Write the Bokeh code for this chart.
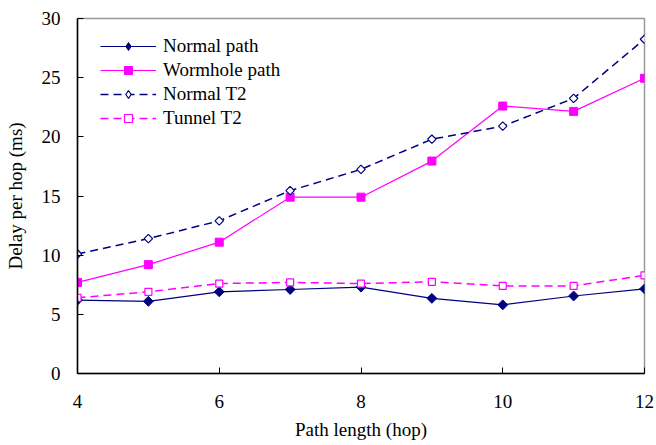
import math
from bokeh.plotting import figure
from bokeh.embed import file_html
from bokeh.resources import INLINE
from bokeh.models import Range1d, FixedTicker, Legend, LegendItem

hops = [4, 5, 6, 7, 8, 9, 10, 11, 12]
normal_path = [6.2, 6.1, 6.9, 7.1, 7.3, 6.35, 5.8, 6.55, 7.15]
wormhole_path = [7.7, 9.2, 11.1, 14.9, 14.9, 17.95, 22.6, 22.15, 24.95]
normal_t2 = [10.1, 11.4, 12.9, 15.45, 17.25, 19.8, 20.9, 23.25, 28.25]
tunnel_t2 = [6.4, 6.9, 7.6, 7.7, 7.6, 7.75, 7.4, 7.4, 8.3]
x_ticks = [4, 6, 8, 10, 12]
y_ticks = [0, 5, 10, 15, 20, 25, 30]

NAVY = "#000080"
MAG = "#FF00FF"
FONT = "Liberation Serif"

p = figure(width=656, height=445, output_backend="svg", toolbar_location=None,
           x_range=Range1d(4, 12), y_range=Range1d(0, 30),
           min_border_left=77, min_border_right=12, min_border_top=18, min_border_bottom=72,
           x_axis_label="Path length (hop)", y_axis_label="Delay per hop (ms)")
p.grid.visible = False
p.outline_line_color = "#999999"
p.outline_line_width = 1.5
p.background_fill_color = "white"

for ax in (p.xaxis[0], p.yaxis[0]):
    ax.axis_line_color = "black"
    ax.axis_line_width = 1.5
    ax.major_tick_in = 6
    ax.major_tick_out = 0
    ax.minor_tick_line_color = None
    ax.major_tick_line_color = "black"
    ax.major_label_text_font = FONT
    ax.major_label_text_font_size = "19px"
    ax.major_label_text_color = "black"
    ax.axis_label_text_font = FONT
    ax.axis_label_text_font_size = "19px"
    ax.axis_label_text_font_style = "normal"
    ax.axis_label_text_color = "black"

p.xaxis[0].ticker = FixedTicker(ticks=x_ticks)
p.yaxis[0].ticker = FixedTicker(ticks=y_ticks)
p.xaxis[0].major_label_standoff = 21
p.xaxis[0].axis_label_standoff = 8
p.yaxis[0].major_label_standoff = 17
p.yaxis[0].axis_label_standoff = 13

rot = math.pi / 4
l1 = p.line(hops, normal_path, line_color=NAVY, line_width=1.2)
p.scatter(hops, normal_path, marker="square", size=7, angle=rot, fill_color=NAVY, line_color=NAVY)
l2 = p.line(hops, wormhole_path, line_color=MAG, line_width=1.2)
s2 = p.scatter(hops, wormhole_path, marker="square", size=8, fill_color=MAG, line_color=MAG)
l3 = p.line(hops, normal_t2, line_color=NAVY, line_width=1.5, line_dash="8 5")
p.scatter(hops, normal_t2, marker="square", size=6, angle=rot, fill_color="white", line_color=NAVY, line_width=1.2)
l4 = p.line(hops, tunnel_t2, line_color=MAG, line_width=1.5, line_dash="8 5")
s4 = p.scatter(hops, tunnel_t2, marker="square", size=7, fill_color="white", line_color=MAG, line_width=1.2)

# legend-only diamond glyphs (the legend does not draw rotated markers); NaN = not drawn on the plot
nan = [float("nan")]
k1 = p.scatter(nan, nan, marker="diamond", size=13, fill_color=NAVY, line_color=NAVY)
k3 = p.scatter(nan, nan, marker="diamond", size=11, fill_color="white", line_color=NAVY, line_width=1.2)

legend = Legend(items=[
    LegendItem(label="Normal path", renderers=[l1, k1]),
    LegendItem(label="Wormhole path", renderers=[l2, s2]),
    LegendItem(label="Normal T2", renderers=[l3, k3]),
    LegendItem(label="Tunnel T2", renderers=[l4, s4]),
], location=(23, 244))
legend.border_line_color = None
legend.background_fill_alpha = 0
legend.margin = 0
legend.padding = 0
legend.spacing = 2
legend.label_height = 20
legend.glyph_height = 20
legend.glyph_width = 56
legend.label_standoff = 7
legend.label_text_font = FONT
legend.label_text_font_size = "19px"
legend.label_text_color = "black"
p.add_layout(legend, "center")

open("out.html", "w").write(file_html(p, INLINE))
